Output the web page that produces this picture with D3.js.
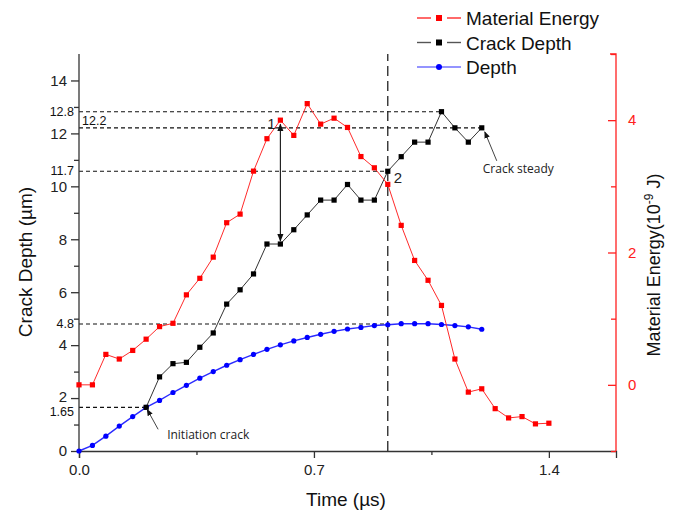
<!DOCTYPE html>
<html><head><meta charset="utf-8">
<script src="https://cdn.jsdelivr.net/npm/d3@7/dist/d3.min.js"></script>
<style>body{margin:0;background:#fff;} svg{display:block;}</style>
</head><body>
<svg id="c" width="681" height="518"></svg>
<script>
// ---- data ----
const energyTime = d3.range(36).map(i => +(i*0.04).toFixed(2)); // 0 .. 1.40
const energyValues = [0.00,0.00,0.46,0.39,0.52,0.69,0.88,0.93,1.36,1.61,1.93,2.45,2.58,3.23,3.72,4.00,3.77,4.25,3.94,4.03,3.89,3.45,3.28,3.03,2.41,1.88,1.58,1.20,0.39,-0.11,-0.06,-0.36,-0.50,-0.48,-0.59,-0.58];
const depthTime = d3.range(31).map(i => +(i*0.04).toFixed(2)); // 0 .. 1.20
const depthValues = [0,0.21,0.56,0.94,1.30,1.65,1.91,2.21,2.48,2.75,3.00,3.24,3.45,3.65,3.84,4.01,4.16,4.29,4.41,4.52,4.61,4.67,4.74,4.77,4.81,4.81,4.81,4.78,4.74,4.69,4.60];
const crackTime = d3.range(26).map(i => +(0.20 + i*0.04).toFixed(2)); // 0.20 .. 1.20
const crackValues = [1.65,2.80,3.30,3.35,3.92,4.46,5.55,6.09,6.69,7.82,7.82,8.36,8.92,9.48,9.48,10.07,9.48,9.48,10.57,11.12,11.67,11.67,12.82,12.21,11.67,12.21];
const xTicks = [0.0, 0.7, 1.4];
const xMinorTicks = [0.35, 1.05];
const leftTicks = [0,2,4,6,8,10,12,14];
const leftMinor = [1,3,5,7,9,11,13];
const rightTicks = [0,2,4];
const rightMinor = [-1,1,3,5];
const legendNames = ["Material Energy","Crack Depth","Depth"];
// reference lines: [label, value on left axis, end time]
const refLines = [["12.8",12.82,1.08],["12.2",12.21,1.20],["11.7",10.57,0.92],["4.8",4.8,0.92],["1.65",1.65,0.20]];
const markerTime = 0.92;

// ---- layout ----
const L = 79, R = 616, T = 54, B = 451;
const svg = d3.select("#c");
const x = d3.scaleLinear().domain([0,1.6]).range([L,R]);
const yL = d3.scaleLinear().domain([0,15]).range([B,T]);
const yR = d3.scaleLinear().domain([-1,5]).range([B,T]);
const font = "'Liberation Sans', Arial, sans-serif";

// reference dashed lines
refLines.forEach(([lab,v,t]) => {
  svg.append("line").attr("x1",L).attr("x2",x(t)).attr("y1",yL(v)).attr("y2",yL(v))
    .attr("stroke","#111").attr("stroke-width",1.1).attr("stroke-dasharray","4,3");
});
svg.append("line").attr("x1",x(markerTime)).attr("x2",x(markerTime)).attr("y1",B).attr("y2",T)
  .attr("stroke","#222").attr("stroke-width",1.3).attr("stroke-dasharray","10,5");

// axes
const gB = svg.append("g").attr("transform",`translate(0,${B})`)
  .call(d3.axisBottom(x).tickValues(xTicks).tickFormat(d3.format(".1f")).tickSize(7).tickPadding(6));
const gBm = svg.append("g").attr("transform",`translate(0,${B})`)
  .call(d3.axisBottom(x).tickValues(xMinorTicks).tickFormat("").tickSize(4));
gBm.select(".domain").remove();
const gL = svg.append("g").attr("transform",`translate(${L},0)`)
  .call(d3.axisLeft(yL).tickValues(leftTicks).tickSize(8).tickPadding(4));
const gLm = svg.append("g").attr("transform",`translate(${L},0)`)
  .call(d3.axisLeft(yL).tickValues(leftMinor).tickFormat("").tickSize(5));
gLm.select(".domain").remove();
const gR = svg.append("g").attr("transform",`translate(${R},0)`)
  .call(d3.axisRight(yR).tickValues(rightTicks).tickFormat(d3.format("d")).tickSize(-8).tickPadding(14));
const gRm = svg.append("g").attr("transform",`translate(${R},0)`)
  .call(d3.axisRight(yR).tickValues(rightMinor).tickFormat("").tickSize(-5));
gRm.select(".domain").remove();

svg.selectAll(".tick text").attr("font-family",font).attr("font-size",15);
[gB,gBm,gL,gLm].forEach(g=>{ g.selectAll("path,line").attr("stroke","#333").attr("stroke-width",1.3); g.selectAll("text").attr("fill","#222"); });
[gR,gRm].forEach(g=>{ g.selectAll("path,line").attr("stroke","#ff2020").attr("stroke-width",1.3); });
gR.selectAll("text").attr("fill","#ff2020").attr("text-anchor","start").attr("x",12);
gL.selectAll(".domain").attr("d",`M-0,${B}V${T}`);
gR.selectAll(".domain").attr("d",`M0,${B}V${T}H-6`);
// nudge the "2" label slightly up to leave room for the 1.65 annotation
gL.selectAll(".tick").filter(d=>d===2).select("text").attr("dy","0.2em");

// reference labels
refLines.forEach(([lab,v]) => {
  const inside = lab==="12.2";
  const dy = inside ? -3 : (lab==="1.65" ? 9 : 4);
  svg.append("text").attr("x", inside ? L+3 : L-5).attr("y", yL(v) + dy)
    .attr("text-anchor", inside ? "start" : "end").attr("font-family",font).attr("font-size",12.5)
    .attr("fill","#111").text(lab);
});

// series
const eData = energyTime.map((t,i)=>[t,energyValues[i]]);
const dData = depthTime.map((t,i)=>[t,depthValues[i]]);
const cData = crackTime.map((t,i)=>[t,crackValues[i]]);

svg.append("path").datum(dData).attr("fill","none").attr("stroke","#2b2bff").attr("stroke-width",1.4)
  .attr("d",d3.line().x(d=>x(d[0])).y(d=>yL(d[1])));
svg.append("path").datum(cData).attr("fill","none").attr("stroke","#333").attr("stroke-width",1)
  .attr("d",d3.line().x(d=>x(d[0])).y(d=>yL(d[1])));
svg.append("path").datum(eData).attr("fill","none").attr("stroke","#ff2a2a").attr("stroke-width",1)
  .attr("d",d3.line().x(d=>x(d[0])).y(d=>yR(d[1])));

svg.selectAll(".dpt").data(dData).join("circle").attr("cx",d=>x(d[0])).attr("cy",d=>yL(d[1])).attr("r",2.6).attr("fill","#0000ff");
svg.selectAll(".cpt").data(cData).join("rect").attr("x",d=>x(d[0])-2.6).attr("y",d=>yL(d[1])-2.6).attr("width",5.2).attr("height",5.2).attr("fill","#000");
svg.selectAll(".ept").data(eData).join("rect").attr("x",d=>x(d[0])-2.6).attr("y",d=>yR(d[1])-2.6).attr("width",5.2).attr("height",5.2).attr("fill","#ff0000");

// arrows
const defs = svg.append("defs");
defs.append("marker").attr("id","ah").attr("viewBox","0 0 10 10").attr("refX",9).attr("refY",5)
  .attr("markerWidth",7).attr("markerHeight",7).attr("orient","auto-start-reverse")
  .append("path").attr("d","M0,1L10,5L0,9z").attr("fill","#111");
// double arrow between energy and crack at t=0.60
const tA = 0.60;
svg.append("line").attr("x1",x(tA)).attr("x2",x(tA))
  .attr("y1",yR(energyValues[energyTime.indexOf(tA)])+4).attr("y2",yL(crackValues[crackTime.indexOf(tA)])-3)
  .attr("stroke","#111").attr("stroke-width",1.1).attr("marker-start","url(#ah)").attr("marker-end","url(#ah)");
svg.append("text").attr("x",x(tA)-13).attr("y",yR(energyValues[energyTime.indexOf(tA)])+9)
  .attr("font-family",font).attr("font-size",14).attr("fill","#222").text("1");
svg.append("text").attr("x",x(markerTime)+6).attr("y",yL(crackValues[crackTime.indexOf(markerTime)])+12)
  .attr("font-family",font).attr("font-size",15).attr("fill","#222").text("2");
// crack steady
const tS = 1.20, vS = crackValues[crackTime.indexOf(tS)];
svg.append("line").attr("x1",x(tS)+15).attr("y1",yL(vS)+33).attr("x2",x(tS)+3).attr("y2",yL(vS)+4)
  .attr("stroke","#444").attr("stroke-width",1).attr("marker-end","url(#ah)");
svg.append("text").attr("x",x(tS)+1).attr("y",yL(vS)+45).attr("font-family","'Open Sans', sans-serif")
  .attr("font-size",12).attr("fill","#222").text("Crack steady");
// initiation crack
const tI = 0.20, vI = crackValues[0];
svg.append("line").attr("x1",x(tI)+12).attr("y1",yL(vI)+22).attr("x2",x(tI)+1).attr("y2",yL(vI)+2)
  .attr("stroke","#444").attr("stroke-width",1).attr("marker-end","url(#ah)");
svg.append("text").attr("x",x(tI)+21).attr("y",yL(vI)+32).attr("font-family","'Open Sans', sans-serif")
  .attr("font-size",12).attr("fill","#222").text("Initiation crack");

// axis titles
svg.append("text").attr("x",346).attr("y",506).attr("text-anchor","middle").attr("font-family",font)
  .attr("font-size",19).attr("fill","#111").text("Time (µs)");
svg.append("text").attr("transform","translate(32,262) rotate(-90)").attr("text-anchor","middle")
  .attr("font-family",font).attr("font-size",19).attr("fill","#111").text("Crack Depth (µm)");
const rt = svg.append("text").attr("transform","translate(660,265) rotate(-90)").attr("text-anchor","middle")
  .attr("font-family",font).attr("font-size",18).attr("fill","#111");
rt.append("tspan").text("Material Energy(10");
rt.append("tspan").attr("dy",-7).attr("font-size",12).text("-9");
rt.append("tspan").attr("dy",7).text(" J)");

// legend
const legColors = ["#ff2a2a","#555","#2b2bff"];
legendNames.forEach((n,i)=>{
  const y = 18 + i*24.5;
  const g = svg.append("g");
  if (i<2) {
    g.append("line").attr("x1",417).attr("x2",431).attr("y1",y).attr("y2",y).attr("stroke",legColors[i]).attr("stroke-width",1.4);
    g.append("line").attr("x1",447).attr("x2",461).attr("y1",y).attr("y2",y).attr("stroke",legColors[i]).attr("stroke-width",1.4);
    g.append("rect").attr("x",436).attr("y",y-3).attr("width",6).attr("height",6).attr("fill",i===0?"#ff0000":"#000");
  } else {
    g.append("line").attr("x1",417).attr("x2",461).attr("y1",y).attr("y2",y).attr("stroke",legColors[i]).attr("stroke-width",1.2);
    g.append("circle").attr("cx",439).attr("cy",y).attr("r",3).attr("fill","#0000ff");
  }
  g.append("text").attr("x",466).attr("y",y+7).attr("font-family",font).attr("font-size",19).attr("fill","#111").text(n);
});
</script>
</body></html>
